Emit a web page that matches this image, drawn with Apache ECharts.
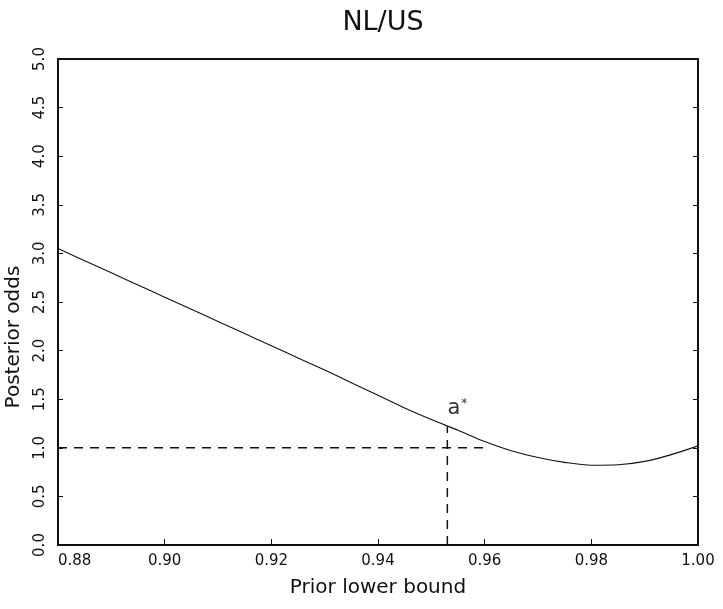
<!DOCTYPE html>
<html>
<head>
<meta charset="utf-8">
<script src="https://cdn.jsdelivr.net/npm/echarts@6/dist/echarts.min.js"></script>
<style>
  html, body { margin: 0; padding: 0; background: #fff; }
  #chart { width: 723px; height: 609px; }
</style>
</head>
<body>
<div id="chart"></div>
<script>
// Posterior odds NL/US as a function of the prior lower bound
const priorBound = [0.880, 0.885, 0.890, 0.895, 0.900, 0.905, 0.910, 0.915, 0.920, 0.925,
                    0.930, 0.935, 0.940, 0.945, 0.950, 0.955, 0.960, 0.965, 0.970, 0.975,
                    0.980, 0.985, 0.990, 0.995, 1.000];
const posteriorOdds = [3.05, 2.925, 2.80, 2.675, 2.55, 2.425, 2.30, 2.175, 2.05, 1.925,
                       1.80, 1.67, 1.54, 1.41, 1.29, 1.18, 1.065, 0.97, 0.90, 0.85,
                       0.82, 0.825, 0.86, 0.93, 1.02];

// Break-even level (odds = 1) and the critical bound a*
const evenOddsX = [0.88, 0.96];
const evenOddsY = [1.0, 1.0];
const aStarX = [0.953, 0.953];
const aStarY = [0, 1.22];

const xRange = [0.88, 1.00];
const xStep = 0.02;
const yRange = [0, 5];
const yStep = 0.5;

const FONT = 'DejaVu Sans';
const INK = '#111';

const chart = echarts.init(document.getElementById('chart'), null, { renderer: 'canvas' });

const zip = (xs, ys) => xs.map((x, i) => [x, ys[i]]);

chart.setOption({
  animation: false,
  backgroundColor: '#fff',
  title: {
    text: 'NL/US',
    left: 378,
    textAlign: 'center',
    top: 4,
    textStyle: { fontFamily: FONT, fontSize: 27, fontWeight: 'normal', color: INK }
  },
  grid: { left: 58, right: 25, top: 59, bottom: 64, containLabel: false, outerBoundsMode: 'none' },
  xAxis: [{
    type: 'value',
    position: 'bottom',
    min: xRange[0], max: xRange[1], interval: xStep,
    name: 'Prior lower bound',
    nameLocation: 'middle',
    nameGap: 33,
    nameTextStyle: { fontFamily: FONT, fontSize: 20, color: INK },
    axisLine: { show: true, onZero: false, lineStyle: { color: INK, width: 2 } },
    axisTick: { show: true, inside: true, length: 6, lineStyle: { color: INK, width: 1 } },
    axisLabel: {
      fontFamily: FONT, fontSize: 15, color: INK, margin: 9,
      alignMinLabel: 'left',
      formatter: v => v.toFixed(2)
    },
    splitLine: { show: false }
  }, {
    type: 'value',
    position: 'top',
    min: xRange[0], max: xRange[1], interval: xStep,
    axisLine: { show: true, onZero: false, lineStyle: { color: INK, width: 2 } },
    axisTick: { show: false },
    axisLabel: { show: false },
    splitLine: { show: false }
  }],
  yAxis: [{
    type: 'value',
    position: 'left',
    min: yRange[0], max: yRange[1], interval: yStep,
    name: 'Posterior odds',
    nameLocation: 'middle',
    nameGap: 34,
    nameTextStyle: { fontFamily: FONT, fontSize: 20, color: INK, padding: [0, 70, 0, 0] },
    axisLine: { show: true, onZero: false, lineStyle: { color: INK, width: 2 } },
    axisTick: { show: true, inside: true, length: 5, lineStyle: { color: INK, width: 1 } },
    axisLabel: {
      fontFamily: FONT, fontSize: 15, color: INK, margin: 10, rotate: 90,
      formatter: v => v.toFixed(1)
    },
    splitLine: { show: false }
  }, {
    type: 'value',
    position: 'right',
    min: yRange[0], max: yRange[1], interval: yStep,
    axisLine: { show: true, onZero: false, lineStyle: { color: INK, width: 2 } },
    axisTick: { show: true, inside: true, length: 5, lineStyle: { color: INK, width: 1 } },
    axisLabel: { show: false },
    splitLine: { show: false }
  }],
  series: [{
    name: 'Posterior odds',
    type: 'line',
    data: zip(priorBound, posteriorOdds),
    smooth: 0.3,
    showSymbol: false,
    lineStyle: { color: INK, width: 1.1 },
    z: 3
  }, {
    name: 'Even odds',
    type: 'line',
    data: zip(evenOddsX, evenOddsY),
    showSymbol: false,
    lineStyle: { color: INK, width: 1.5, type: [9, 7] },
    z: 2
  }, {
    name: 'a*',
    type: 'line',
    data: zip(aStarX, aStarY),
    showSymbol: false,
    lineStyle: { color: INK, width: 1.5, type: [9, 7] },
    z: 2
  }, {
    name: 'a* label',
    type: 'scatter',
    data: [[aStarX[1], aStarY[1]]],
    symbolSize: 0,
    label: {
      show: true,
      position: 'top',
      offset: [10, -2],
      formatter: '{a|a}{s|*}',
      rich: {
        a: { fontFamily: FONT, fontSize: 21, color: '#000' },
        s: { fontFamily: FONT, fontSize: 12, color: '#000', verticalAlign: 'top', padding: [0, 0, 10, 1] }
      }
    },
    z: 4
  }]
});
</script>
</body>
</html>
